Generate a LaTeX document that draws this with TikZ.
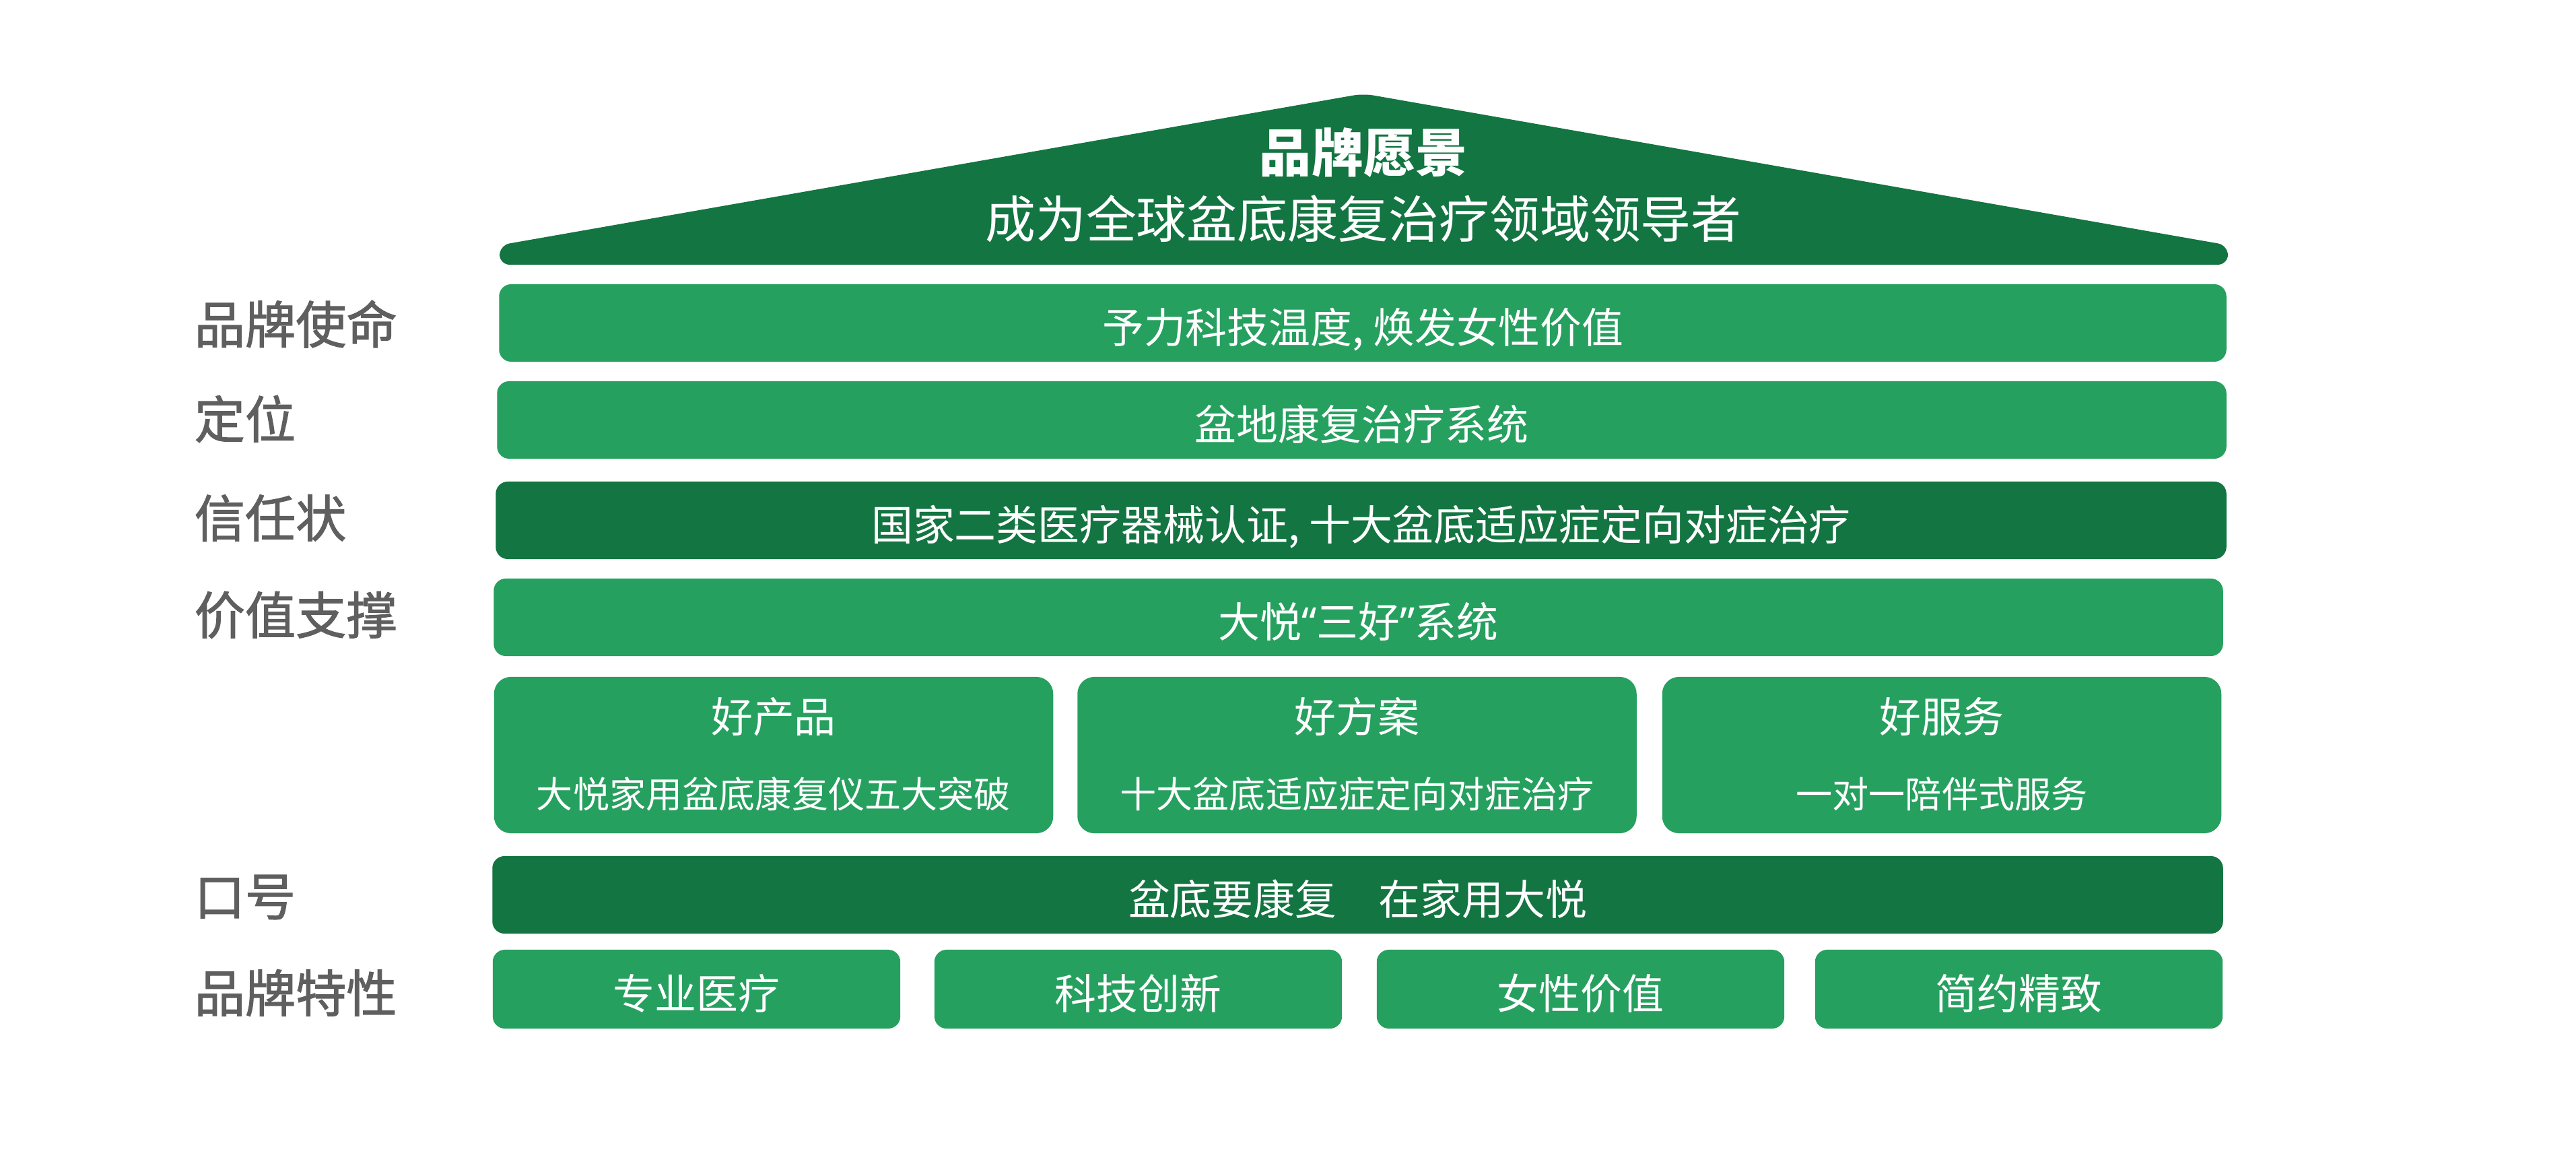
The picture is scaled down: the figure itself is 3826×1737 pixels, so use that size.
\documentclass[tikz,border=0pt]{standalone}
\usepackage{fontspec}
\setmainfont{Noto Sans CJK SC}
\newfontfamily\labelfont{Noto Sans CJK SC}[FakeBold=1.5]
\newfontfamily\latinfont{Noto Sans}
\definecolor{lightgreen}{HTML}{26A05F}
\definecolor{darkgreen}{HTML}{137541}
\definecolor{labelgray}{HTML}{5F5F5F}

\begin{document}
\begin{tikzpicture}[
    x=0.01cm, y=-0.01cm,
    % 浅绿色横条样式
    bar/.style={fill=lightgreen, rounded corners=0.18cm, inner sep=0pt,
        minimum height=1.15cm, text height=18pt, text depth=1pt,
        text=white, font=\fontsize{17.6}{20}\selectfont},
    % 深绿色横条样式
    darkbar/.style={bar, fill=darkgreen},
    % 三个支撑方块样式
    pillar/.style={bar, rounded corners=0.25cm, minimum width=8.3cm, minimum height=2.32cm},
    % 品牌特性小方块样式
    trait/.style={bar, minimum width=6.05cm, minimum height=1.17cm},
    % 左侧标签样式
    label/.style={anchor=west, inner sep=0pt, text=labelgray, font=\labelfont\fontsize{21.4}{24}\selectfont},
    % 方块内文字样式
    boxtext/.style={text=white, inner sep=0pt, font=\fontsize{17.6}{20}\selectfont},
    subtext/.style={boxtext, font=\fontsize{15.4}{18}\selectfont}
]

    % 0. 固定画布大小
    \useasboundingbox (0,0) rectangle (3826,1737);

    % 1. 屋顶：品牌愿景
    \fill[darkgreen, rounded corners=0.15cm]
        (742,393) -- (742,364) -- (2025,139) -- (3309,364) -- (3309,393) -- cycle;
    \node[boxtext, font=\fontsize{21.9}{24}\selectfont\bfseries] (vtitle) at (2025,227) {品牌愿景};
    \node[boxtext, font=\fontsize{21.3}{24}\selectfont] (vision) at (2025,325) {成为全球盆底康复治疗领域领导者};

    % 2. 各层横条
    \node[bar, minimum width=25.64cm] (mission) at (2024,479.5) {予力科技温度, 焕发女性价值};
    \node[bar, minimum width=25.67cm] (position) at (2022.5,623.5) {盆地康复治疗系统};
    \node[darkbar, minimum width=25.69cm] (trust) at (2021.5,772.5) {国家二类医疗器械认证, 十大盆底适应症定向对症治疗};
    \node[bar, minimum width=25.67cm] (value) at (2017.5,916.5) {大悦{\latinfont “}三好{\latinfont ”}系统};

    % 3. 三好方块
    \node[pillar] (product) at (1149,1121) {};
    \node[pillar] (plan) at (2015.5,1121) {};
    \node[pillar] (service) at (2884,1121) {};
    \node[boxtext] (tproduct) at (1149,1064) {好产品};
    \node[subtext] (sproduct) at (1149,1179) {大悦家用盆底康复仪五大突破};
    \node[boxtext] (tplan) at (2015.5,1064) {好方案};
    \node[subtext] (splan) at (2015.5,1179) {十大盆底适应症定向对症治疗};
    \node[boxtext] (tservice) at (2884,1064) {好服务};
    \node[subtext] (sservice) at (2884,1179) {一对一陪伴式服务};

    % 4. 口号
    \node[darkbar, minimum width=25.69cm] (slogan) at (2016.5,1328.5) {盆底要康复　在家用大悦};

    % 5. 品牌特性
    \node[trait] (pro) at (1034.5,1468.5) {专业医疗};
    \node[trait] (tech) at (1690.5,1468.5) {科技创新};
    \node[trait] (female) at (2347.5,1468.5) {女性价值};
    \node[trait] (simple) at (2998.5,1468.5) {简约精致};

    % 6. 左侧标签
    \node[label] (lmission) at (288,481) {品牌使命};
    \node[label] (lposition) at (288,622) {定位};
    \node[label] (ltrust) at (288,769) {信任状};
    \node[label] (lvalue) at (288,913) {价值支撑};
    \node[label] (lslogan) at (288,1332) {口号};
    \node[label] (ltrait) at (288,1474) {品牌特性};

\end{tikzpicture}
\end{document}
